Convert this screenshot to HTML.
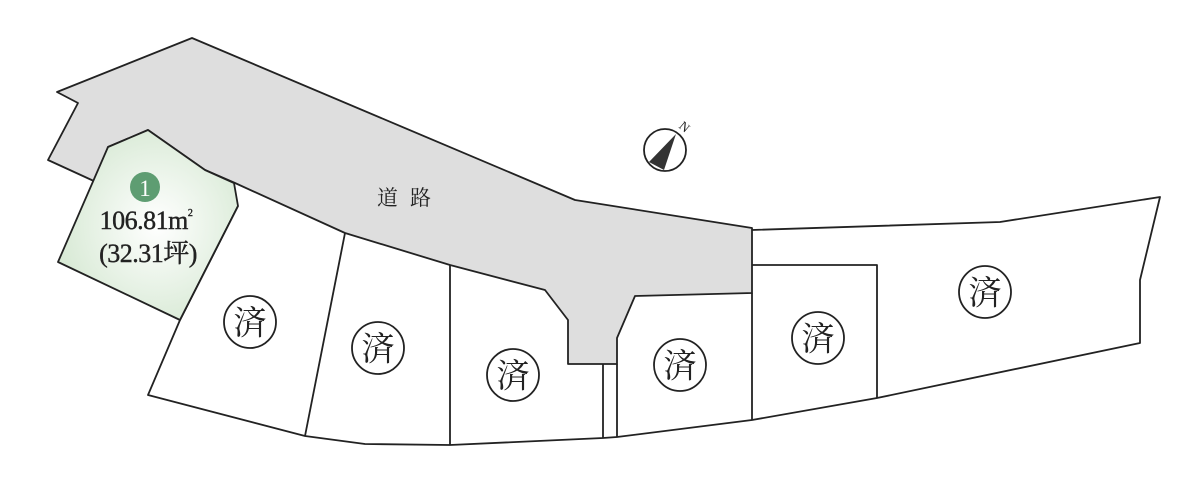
<!DOCTYPE html>
<html><head><meta charset="utf-8"><style>
html,body{margin:0;padding:0;background:#fff;width:1200px;height:492px;overflow:hidden}
text{font-family:"Liberation Serif","Noto Serif CJK SC",serif;fill:#222}
</style></head><body>
<svg width="1200" height="492" viewBox="0 0 1200 492" xmlns="http://www.w3.org/2000/svg">
<defs>
<radialGradient id="g" cx="0.55" cy="0.5" r="0.6">
<stop offset="0" stop-color="#ffffff"/><stop offset="1" stop-color="#d5e8d2"/>
</radialGradient>
</defs>
<g stroke="#222" stroke-width="1.8" stroke-linejoin="round" fill="none">
<polygon fill="#dedede" points="57,92 192,38 575,200 752,228 752,293 635,296 617,338 617,364 568,364 568,320 545,290 450,265 345,233 235,183 205,170 148,130 108,147 96,182 48,160 78,103"/>
<polygon fill="url(#g)" points="58,262 108,147 148,130 205,170 234,183 238,206 180,320"/>
<polyline points="238,206 180,320 148,395 305,436 365,444 450,445 603,438 617,437 752,420 877,398 1140,343 1140,280 1160,197 1000,222 752,230"/>
<line x1="345" y1="233" x2="305" y2="436"/>
<line x1="450" y1="265" x2="450" y2="445"/>
<line x1="603" y1="364" x2="603" y2="438"/>
<line x1="617" y1="364" x2="617" y2="437"/>
<line x1="752" y1="293" x2="752" y2="420"/>
<polyline points="752,265 877,265 877,398"/>
<circle cx="250" cy="322" r="26"/>
<circle cx="378" cy="348" r="26"/>
<circle cx="513" cy="375" r="26"/>
<circle cx="680" cy="365" r="26"/>
<circle cx="818" cy="338" r="26"/>
<circle cx="985" cy="292" r="26"/>
<circle cx="665" cy="150" r="21"/>
</g>
<polygon points="676,134 649,162 664,170" fill="#333"/>
<text x="680" y="130" font-size="13" font-family="Liberation Sans" transform="rotate(40 683 126)">N</text>
<text x="410" y="205" font-size="21" text-anchor="middle" letter-spacing="12">道路</text>
<circle cx="145" cy="187" r="15" fill="#5e9d72"/>
<text x="145" y="196" font-size="23" text-anchor="middle" style="fill:#fff">1</text>
<text x="146" y="229" font-size="26" text-anchor="middle" letter-spacing="-0.5" stroke="#222" stroke-width="0.4">106.81m<tspan font-size="10" dy="-13">2</tspan></text>
<text x="148" y="262" font-size="26" text-anchor="middle" letter-spacing="-0.5" stroke="#222" stroke-width="0.4">(32.31坪)</text>
<g font-size="33" text-anchor="middle">
<text x="250" y="334">済</text>
<text x="378" y="360">済</text>
<text x="513" y="387">済</text>
<text x="680" y="377">済</text>
<text x="818" y="350">済</text>
<text x="985" y="304">済</text>
</g>
</svg>
</body></html>
